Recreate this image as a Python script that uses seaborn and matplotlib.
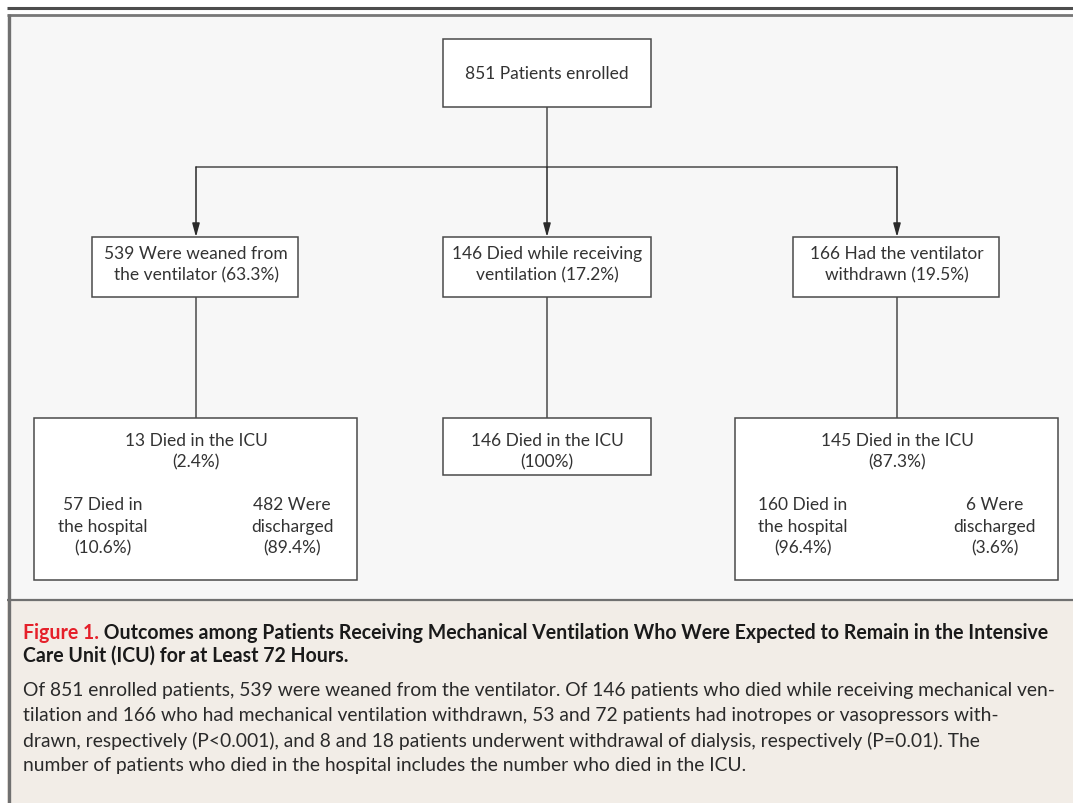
import matplotlib
matplotlib.use("Agg")
import matplotlib.pyplot as plt
import seaborn as sns
from matplotlib.patches import Rectangle

# ---- data (flowchart counts) ----
enrolled = 851
branch_labels = [["539 Were weaned from", "the ventilator (63.3%)"],
                 ["146 Died while receiving", "ventilation (17.2%)"],
                 ["166 Had the ventilator", "withdrawn (19.5%)"]]
icu_labels = [["13 Died in the ICU", "(2.4%)"],
              ["146 Died in the ICU", "(100%)"],
              ["145 Died in the ICU", "(87.3%)"]]
hosp_labels = [["57 Died in", "the hospital", "(10.6%)"], None,
               ["160 Died in", "the hospital", "(96.4%)"]]
disc_labels = [["482 Were", "discharged", "(89.4%)"], None,
               ["6 Were", "discharged", "(3.6%)"]]
title_red = "Figure 1."
title_lines = [" Outcomes among Patients Receiving Mechanical Ventilation Who Were Expected to Remain in the Intensive",
               "Care Unit (ICU) for at Least 72 Hours."]
body_lines = ["Of 851 enrolled patients, 539 were weaned from the ventilator. Of 146 patients who died while receiving mechanical ven-",
              "tilation and 166 who had mechanical ventilation withdrawn, 53 and 72 patients had inotropes or vasopressors with-",
              "drawn, respectively (P<0.001), and 8 and 18 patients underwent withdrawal of dialysis, respectively (P=0.01). The",
              "number of patients who died in the hospital includes the number who died in the ICU."]

sns.set_style("white")
plt.rcParams['font.family'] = ['Lato', 'DejaVu Sans']

W, H = 1073, 804
fig = plt.figure(figsize=(W / 100, H / 100), dpi=100)
ax = fig.add_axes([0, 0, 1, 1])
ax.set_xlim(0, W)
ax.set_ylim(H, 0)
ax.axis("off")

TXT = "#333333"
EDGE = "#4a4a4a"

# backgrounds
ax.add_patch(Rectangle((7, 16), W, 585, facecolor="#f7f7f7", edgecolor="none", zorder=0))
ax.add_patch(Rectangle((7, 601), W, 210, facecolor="#f2ede7", edgecolor="none", zorder=0))
ax.plot([7, W], [8.5, 8.5], color="#4d4d4d", lw=2.2, solid_capstyle="butt", zorder=1)
ax.plot([7, W], [16, 16], color="#777777", lw=2.0, solid_capstyle="butt", zorder=1)
ax.plot([8.5, 8.5], [15, H], color="#707070", lw=2.4, solid_capstyle="butt", zorder=1)
ax.plot([7, W], [600.5, 600.5], color="#707070", lw=1.6, solid_capstyle="butt", zorder=1)

BOX_FS = 12.5
LINE_GAP = 21.7


def box(x0, y0, x1, y1):
    ax.add_patch(Rectangle((x0, y0), x1 - x0, y1 - y0, facecolor="white",
                           edgecolor=EDGE, lw=1.1, zorder=2))


def lines_at(cx, cy_first, lines):
    for i, s in enumerate(lines):
        ax.text(cx, cy_first + i * LINE_GAP, s, ha="center", va="center",
                fontsize=BOX_FS, color=TXT, zorder=3)


def vline(x, y0, y1):
    ax.plot([x, x], [y0, y1], color=EDGE, lw=1.1, zorder=1)


# top box
box(443, 40, 651, 108)
lines_at(547, 74, [f"{enrolled} Patients enrolled"])

# connectors
centers = [196, 547, 897]
vline(547, 108, 168)
ax.plot([196, 897], [168, 168], color=EDGE, lw=1.1, zorder=1)
for cx in centers:
    ax.annotate("", xy=(cx, 238), xytext=(cx, 168),
                arrowprops=dict(arrowstyle="-|>,head_length=0.8,head_width=0.22",
                                color="#2a2a2a", lw=1.1, shrinkA=0, shrinkB=0), zorder=1)

# middle boxes
mid_boxes = [(92, 298), (443, 651), (793, 999)]
for (x0, x1), cx, lab in zip(mid_boxes, centers, branch_labels):
    box(x0, 238, x1, 298)
    lines_at(cx, 254, lab)
    vline(cx, 298, 419)

# bottom boxes
bottom = [(34, 357, 581), (443, 651, 476), (735, 1058, 581)]
sub_x = [(103, 292), None, (803, 995)]
for i, ((x0, x1, y1), cx) in enumerate(zip(bottom, centers)):
    box(x0, 419, x1, y1)
    lines_at(cx, 441, icu_labels[i])
    if hosp_labels[i] is not None:
        lines_at(sub_x[i][0], 505, hosp_labels[i])
        lines_at(sub_x[i][1], 505, disc_labels[i])

# caption
fig.canvas.draw()
r = fig.canvas.get_renderer()


def width_px(t):
    return t.get_window_extent(renderer=r).width


# title
TFS = 12.3
t_red = ax.text(23, 633, title_red, ha="left", va="center", fontsize=TFS,
                fontweight="bold", color="#e5202a", zorder=3)
wr = width_px(t_red)
t1 = ax.text(23 + wr, 633, title_lines[0], ha="left", va="center", fontsize=TFS,
             fontweight="bold", color="#1a1a1a", zorder=3)
w1 = width_px(t1)
scale = (1052 - 23) / (wr + w1)
t_red.set_fontsize(TFS * scale)
t1.set_fontsize(TFS * scale)
fig.canvas.draw()
wr = width_px(t_red)
t1.set_x(23 + wr)
ax.text(23, 656, title_lines[1], ha="left", va="center", fontsize=TFS * scale,
        fontweight="bold", color="#1a1a1a", zorder=3)

# body
BFS = 12.0
tb = ax.text(23, 691, body_lines[0], ha="left", va="center", fontsize=BFS, color="#2a2a2a", zorder=3)
wb = width_px(tb)
bscale = (1056 - 23) / wb
tb.set_fontsize(BFS * bscale)
for i, s in enumerate(body_lines[1:], start=1):
    ax.text(23, 691 + i * 25, s, ha="left", va="center", fontsize=BFS * bscale,
            color="#2a2a2a", zorder=3)

fig.savefig("out.png", dpi=100)
